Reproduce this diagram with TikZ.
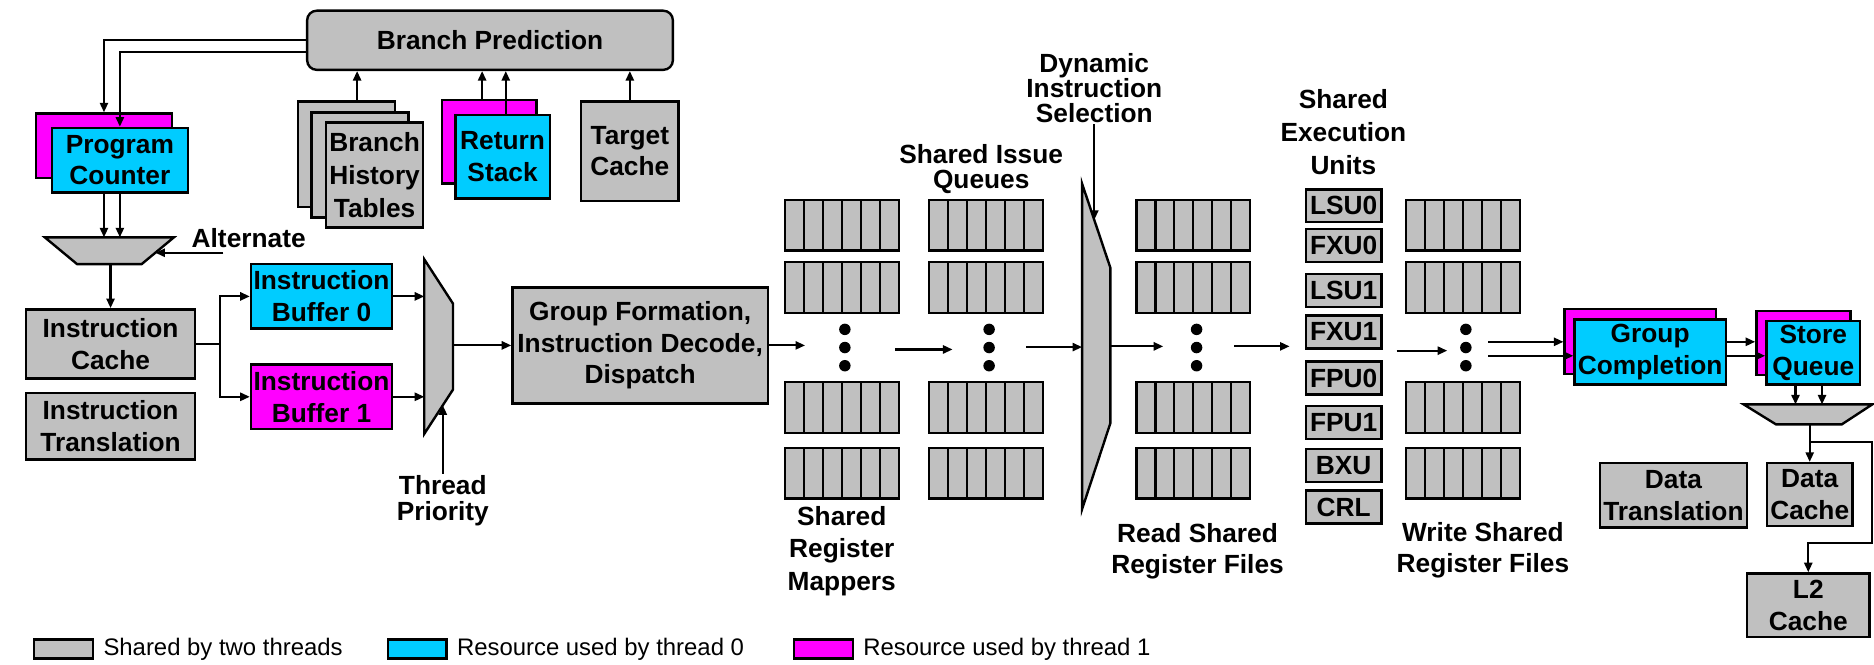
\documentclass[tikz,border=0pt]{standalone}
\usepackage{fontspec}
\setmainfont{Liberation Sans}
\usepackage{tikz}
\usetikzlibrary{arrows.meta,positioning}
\definecolor{shared}{RGB}{192,192,192}
\definecolor{thrzero}{RGB}{0,204,255}
\definecolor{throne}{RGB}{255,0,255}

\begin{document}
\begin{tikzpicture}[
    x=0.5pt, y=-0.5pt,
    box/.style={rectangle, draw, line width=1pt, inner sep=0.5pt, align=center, font=\fontsize{11}{13.3}\selectfont\bfseries},
    sbox/.style={box, fill=shared},
    tbox/.style={box, fill=thrzero},
    obox/.style={box, fill=throne},
    eunit/.style={sbox, minimum width=31.6pt, minimum height=13.8pt},
    mux/.style={draw, fill=shared, line width=1pt},
    cell/.style={draw, fill=shared, line width=0.9pt},
    arrow/.style={-{Triangle[length=4pt, width=3.4pt]}, line width=0.9pt},
    note/.style={align=center, inner sep=0.5pt, font=\fontsize{11}{13}\selectfont\bfseries},
    swatch/.style={draw, line width=1pt, minimum width=24.5pt, minimum height=8pt, inner sep=0pt},
    legtext/.style={inner sep=0pt, font=\fontsize{10}{12}\selectfont}
]
\useasboundingbox (0,0) rectangle (1568,556);

% Front end
\node[sbox, rounded corners=4pt, minimum width=153pt, minimum height=24.75pt] (bp) at (410,33.7) {Branch Prediction};
\node[obox, minimum width=57pt, minimum height=27pt] (pc1) at (87,122) {};
\node[tbox, minimum width=57pt, minimum height=27pt] (pc0) at (100.3,134) {Program\\Counter};
\foreach \i/\cx/\cy in {1/290/129, 2/301.3/138}
    \node[sbox, minimum width=40.65pt, minimum height=44pt] (bht\i) at (\cx,\cy) {};
\node[sbox, minimum width=40.65pt, minimum height=44pt, font=\fontsize{11}{13.7}\selectfont\bfseries] (bht3) at (313.4,146.5) {Branch\\History\\Tables};
\node[obox, minimum width=39.5pt, minimum height=35pt] (rs1) at (409.5,118.5) {};
\node[tbox, minimum width=39.5pt, minimum height=35pt] (rs0) at (420.5,131) {Return\\Stack};
\node[sbox, minimum width=40.7pt, minimum height=41.5pt] (tcache) at (527,126.5) {Target\\Cache};

\node[sbox, minimum width=70.75pt, minimum height=28.9pt] (ic) at (92.5,287.7) {Instruction\\Cache};
\node[sbox, minimum width=70.75pt, minimum height=27.9pt] (it) at (92.5,356.5) {Instruction\\Translation};
\node[tbox, minimum width=59pt, minimum height=27pt] (ib0) at (269,248) {Instruction\\Buffer 0};
\node[obox, minimum width=59pt, minimum height=27pt] (ib1) at (269,332) {Instruction\\Buffer 1};
\node[sbox, minimum width=106.8pt, minimum height=48.5pt] (gf) at (535.6,289) {Group Formation,\\Instruction Decode,\\Dispatch};

% Labels
\node[note, anchor=west] (alt) at (159,199.5) {Alternate};
\node[note, font=\fontsize{11}{11}\selectfont\bfseries] (prio) at (370.5,419) {Thread\\Priority};
\node[note, font=\fontsize{11}{10.5}\selectfont\bfseries] (dis) at (915.6,73.6) {Dynamic\\Instruction\\Selection};
\node[note, font=\fontsize{11}{10.5}\selectfont\bfseries] (iq) at (821,141.7) {Shared Issue\\Queues};
\node[note, font=\fontsize{11}{13.5}\selectfont\bfseries] (map) at (704.3,461) {Shared\\Register\\Mappers};
\node[note, font=\fontsize{11}{12.8}\selectfont\bfseries] (rd) at (1002,461.2) {Read Shared\\Register Files};
\node[note, font=\fontsize{11}{13.7}\selectfont\bfseries] (eu) at (1124,110.7) {Shared\\Execution\\Units};
\node[note] (wr) at (1240.8,460.2) {Write Shared\\Register Files};

% Multiplexers
\coordinate (m1a) at (37.5,198.6); \coordinate (m1b) at (145.5,198.6);
\coordinate (m1c) at (118.5,221); \coordinate (m1d) at (64.5,221);
\coordinate (m2a) at (355,217); \coordinate (m2b) at (379,254);
\coordinate (m2c) at (379,326); \coordinate (m2d) at (355,363);
\coordinate (m3a) at (905.4,153.7); \coordinate (m3b) at (929.1,224.2);
\coordinate (m3c) at (929.1,353.9); \coordinate (m3d) at (905.4,426);
\coordinate (m4a) at (1459,338.4); \coordinate (m4b) at (1566.5,338.4);
\coordinate (m4c) at (1541,355.1); \coordinate (m4d) at (1486,355.1);
\foreach \m in {m1,m2,m3,m4}
    \draw[mux] (\m a) -- (\m b) -- (\m c) -- (\m d) -- cycle;

% Register files and queues
\foreach \bx in {657,777.3,950.9,1176.6}
    \foreach \by in {167.3,219.5,319.8,374.8}
        \foreach \i in {0,...,5}
            \draw[cell] ({\bx+\i*15.87},\by) rectangle ++(15.87,42.3);
\foreach \dx in {706.9,827.6,1001.2,1226.5}
    \foreach \dy in {275.6,290.8,306}
        \fill (\dx,\dy) circle (2.4pt);

% Execution units
\foreach \n/\cy in {LSU0/172.2, FXU0/205.5, LSU1/243.1, FXU1/277.8, FPU0/316.3, FPU1/353.3, BXU/389.3, CRL/424.2}
    \node[eunit] (\n) at (1124.3,\cy) {\n};

% Back end
\node[obox, minimum width=63.25pt, minimum height=27.1pt] (gc1) at (1372.4,285.8) {};
\node[tbox, minimum width=63.25pt, minimum height=27.1pt] (gc0) at (1380.7,294.5) {Group\\Completion};
\node[obox, minimum width=39.3pt, minimum height=26.6pt] (sq1) at (1508.9,287) {};
\node[tbox, minimum width=39.3pt, minimum height=26.6pt] (sq0) at (1517.2,295.2) {Store\\Queue};
\node[sbox, minimum width=61.35pt, minimum height=27pt] (dt) at (1400.2,414.5) {Data\\Translation};
\node[sbox, minimum width=35.8pt, minimum height=26.25pt] (dc) at (1514.2,413.7) {Data\\Cache};
\node[sbox, minimum width=51.35pt, minimum height=26.5pt] (ltwo) at (1513,506.3) {L2\\Cache};

% Arrow ends
\coordinate (altin) at (187,211.5);
\coordinate (altout) at (130,211.5);
\coordinate (m2p) at (370.5,339.1);
\coordinate (m3p) at (915.6,184);
\coordinate (mapin) at (673.6,289);
\coordinate (mapout) at (749,292.4);
\coordinate (iqin) at (797,292.4);
\coordinate (iqout) at (858.6,290.4);
\coordinate (rdin) at (973.3,289.8);
\coordinate (rdout) at (1032.6,289.8);
\coordinate (euin) at (1079,289.8);
\coordinate (euout) at (1168.5,293.4);
\coordinate (wrin) at (1210.9,293.4);
\coordinate (wra) at (1245.2,286);
\coordinate (wrb) at (1245.2,297.7);
\coordinate (sqa) at (1502.3,338.4);
\coordinate (sqb) at (1524.5,338.4);
\coordinate (br) at (1514.2,369.6);
\coordinate (lturn) at (1566.5,454.1);

% Arrows
\draw[arrow] (bp.west) -| (pc1.north);
\draw[arrow] ([yshift=-4.75pt]bp.west) -| (pc0.north);
\draw[arrow] (pc1.north |- pc0.south) -- (pc1.north |- m1a);
\draw[arrow] (pc0.south) -- (pc0.south |- m1a);
\draw[arrow] (bht1.north) ++(8.8,0) coordinate (bhtup) -- (bhtup |- bp.south);
\draw[arrow] (rs1.north) ++(-6.1,0) coordinate (rsa) -- (rsa |- bp.south);
\draw[arrow] (rs0.north) ++(2.7,0) coordinate (rsb) -- (rsb |- bp.south);
\draw[arrow] (tcache.north) -- (tcache.north |- bp.south);
\draw[arrow] (altin) -- (altout);
\draw[arrow] (ic.north |- m1c) -- (ic.north);
\draw[arrow] (ic.east) -- ++(20,0) coordinate (icsplit) |- (ib0.west);
\draw[arrow] (icsplit) |- (ib1.west);
\draw[arrow] (ib0.east) -- (ib0.east -| m2a);
\draw[arrow] (ib1.east) -- (ib1.east -| m2a);
\draw[arrow] (prio.north) -- (m2p);
\draw[arrow] (gf.west -| m2b) -- (gf.west);
\draw[arrow] (gf.east) -- (mapin);
\draw[arrow] (mapout) -- (iqin);
\draw[arrow] (iqout) -- (iqout -| m3a);
\draw[arrow] (dis.south) -- (m3p);
\draw[arrow] (rdin -| m3b) -- (rdin);
\draw[arrow] (rdout) -- (euin);
\draw[arrow] (euout) -- (wrin);
\draw[arrow] (wra) -- (wra -| gc1.west);
\draw[arrow] (wrb) -- (wrb -| gc0.west);
\draw[arrow] (wra -| gc0.east) -- (wra -| sq1.west);
\draw[arrow] (wrb -| gc0.east) -- (wrb -| sq0.west);
\draw[arrow] (sqa |- sq0.south) -- (sqa);
\draw[arrow] (sqb |- sq0.south) -- (sqb);
\draw[arrow] (dc.north |- m4c) -- (dc.north);
\draw[arrow] (br) -| (lturn) -| (ltwo.north);

% Legend
\node[swatch, fill=shared] (lgs) at (53.2,543) {};
\node[legtext, right=3.75pt of lgs] (lgstext) {Shared by two threads};
\node[swatch, fill=thrzero] (lgz) at (349,543) {};
\node[legtext, right=3.75pt of lgz] (lgztext) {Resource used by thread 0};
\node[swatch, fill=throne] (lgo) at (689,543) {};
\node[legtext, right=3.75pt of lgo] (lgotext) {Resource used by thread 1};

\end{tikzpicture}
\end{document}
